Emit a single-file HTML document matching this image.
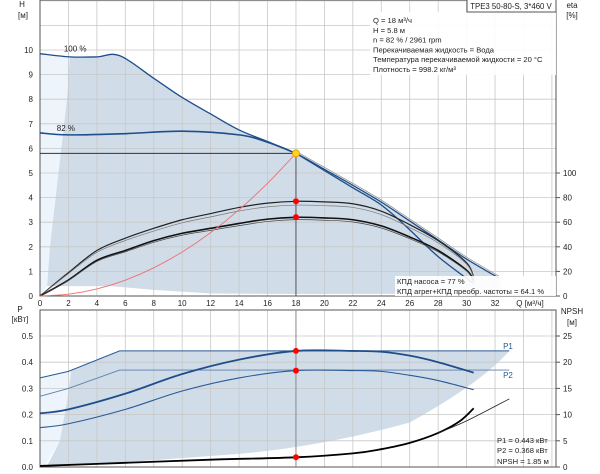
<!DOCTYPE html>
<html><head><meta charset="utf-8"><style>
body{margin:0;background:#fff}
svg{display:block;font-family:"Liberation Sans",sans-serif}
</style></head><body>
<svg id="c" width="600" height="474" viewBox="0 0 600 474" xmlns="http://www.w3.org/2000/svg"></svg>
<script>
// ---- data ----
const qTicks=[0,2,4,6,8,10,12,14,16,18,20,22,24,26,28,30,32];
const hTicks=[0,1,2,3,4,5,6,7,8,9,10];
const etaTicks=[0,20,40,60,80,100];
const pTicks=[0.0,0.1,0.2,0.3,0.4,0.5];
const npshTicks=[0,5,10,15,20,25];
const hMaxQ=[0,2.1,4,5.6,8,10,12,14,16,18,20,22,24,26,28,30,32.3];
const hMaxH=[9.85,9.72,9.72,9.77,8.85,8.07,7.4,6.75,6.28,5.8,5.15,4.5,3.82,3.05,2.28,1.5,0.72];
const h82Q=[0,2,6,10,14,16,18];
const h82H=[6.63,6.55,6.6,6.7,6.55,6.25,5.8];
const h82bQ=[18,20,22,24,25.8,28,30.5];
const h82bH=[5.8,5.1,4.4,3.7,2.8,1.6,0.5];
const etaQ=[0,2,4,6,8,10,12,14,16,18,20,22,24,26,28,30,30.5];
const eta1=[0,19,37,47,55,62,67,72,75.5,77,76.5,75,69,58,45,27,15];
const eta2=[0,13,29,37,45,51,55,59,62.5,64,63.5,62,57,48,37,21,12];
const sysQ=[0,2,4,6,8,10,12,14,16,18];
const p1MaxQ=[0,2,5.6,24,33];
const p1Max=[0.34,0.365,0.443,0.443,0.443];
const p2MaxQ=[0,2,5.6,33];
const p2Max=[0.27,0.30,0.37,0.37];
const pQ=[0,2,6,10,14,18,22,24,26,28,30.5];
const p1=[0.205,0.22,0.28,0.355,0.41,0.443,0.443,0.44,0.425,0.40,0.36];
const p2=[0.15,0.165,0.22,0.29,0.34,0.368,0.368,0.365,0.35,0.33,0.295];
const npshQ=[0,6,12,18,22,24,26,28,29.5,30.5];
const npsh=[0.2,0.8,1.4,1.85,2.6,3.4,4.6,6.5,8.7,11.2];
const npsh2Q=[28,30,33];
const npsh2=[6.5,8.8,13];
const dutyQ=18, dutyH=5.8, dutyEta1=77, dutyEta2=64.1, dutyP1=0.443, dutyP2=0.368, dutyNpsh=1.85;

// ---- axes ----
const X=q=>40+q*14.22;
const YH=h=>296-h*24.6;
const YE=e=>296-e*1.23;
const YP=p=>467-p*262;
const YN=n=>467-n*5.24;
const NS="http://www.w3.org/2000/svg";
const svg=document.getElementById('c');
function el(t,a,parent){const e=document.createElementNS(NS,t);for(const k in a)e.setAttribute(k,a[k]);(parent||svg).appendChild(e);return e;}
function txt(x,y,s,anchor,size,fill){const t=el('text',{x:x,y:y,'font-size':size||8,fill:fill||'#222','text-anchor':anchor||'start'});t.textContent=s;return t;}
function pts(qs,vs,fy){return qs.map((q,i)=>X(q).toFixed(1)+','+fy(vs[i]).toFixed(1));}
function smooth(qs,vs,fy){const p=qs.map((q,i)=>[X(q),fy(vs[i])]);let d='M'+p[0];for(let i=1;i<p.length;i++){const p0=p[i-2]||p[i-1],p1=p[i-1],p2=p[i],p3=p[i+1]||p[i];const c1=[p1[0]+(p2[0]-p0[0])/6,p1[1]+(p2[1]-p0[1])/6],c2=[p2[0]-(p3[0]-p1[0])/6,p2[1]-(p3[1]-p1[1])/6];d+=' C'+c1+' '+c2+' '+p2;}return d;}

// ---- top plot ----
let g=el('g',{});


// light region
el('path',{d:'M'+X(0)+','+YH(0)+' L'+X(0)+','+YH(9.85)+' L'+X(2.1)+','+YH(9.72)+' L'+X(1.9)+','+YH(8)+' L'+X(1.5)+','+YH(6)+' L'+X(1.1)+','+YH(4)+' L'+X(0.7)+','+YH(2)+' L'+X(0.5)+','+YH(0.4)+' Z',fill:'#edf4fb'},g);
// dark region
let dd=smooth(hMaxQ.slice(1),hMaxH.slice(1),YH);
dd+=' L'+X(32.5)+','+YH(0.1)+' L'+X(18)+','+YH(0.08)+' L'+X(12)+','+YH(0.1)+' L'+X(8)+','+YH(0.25)+' L'+X(5)+','+YH(0.4)+' L'+X(0.5)+','+YH(0.4)+' L'+X(0.7)+','+YH(2)+' L'+X(1.1)+','+YH(4)+' L'+X(1.5)+','+YH(6)+' L'+X(1.9)+','+YH(8)+' Z';
el('path',{d:dd,fill:'#d0dce8'},g);
// grid
for(let q=0;q<=36;q+=2)el('line',{x1:X(q),x2:X(q),y1:0,y2:296,stroke:'#c8c8c8','stroke-width':0.8},g);
for(let h=1;h<=12;h++)el('line',{x1:40,x2:556,y1:YH(h),y2:YH(h),stroke:'#c8c8c8','stroke-width':0.8},g);
el('rect',{x:40,y:0,width:516,height:296,fill:'none',stroke:'#555','stroke-width':1},g);
// curves
let c=el('path',{d:smooth(hMaxQ,hMaxH,YH),fill:'none',stroke:'#1f4e8a','stroke-width':1.3},g);
c=el('path',{d:smooth(h82Q,h82H,YH),fill:'none',stroke:'#1f4e8a','stroke-width':1.6},g);
c=el('path',{d:smooth(h82bQ,h82bH,YH),fill:'none',stroke:'#1f4e8a','stroke-width':1.3},g);
el('path',{d:smooth(hMaxQ.slice(9),hMaxH.slice(9).map(v=>v+0.08),YH),fill:'none',stroke:'#888','stroke-width':0.7},g);
c=el('path',{d:smooth(etaQ,eta1,YE),fill:'none',stroke:'#222','stroke-width':1.2},g);
el('path',{d:smooth(etaQ,eta1.map(v=>v*0.96),YE),fill:'none',stroke:'#777','stroke-width':0.7},g);
c=el('path',{d:smooth(etaQ,eta2,YE),fill:'none',stroke:'#111','stroke-width':1.6},g);
el('path',{d:smooth(etaQ,eta2.map(v=>v*0.97),YE),fill:'none',stroke:'#444','stroke-width':0.7},g);
c=el('path',{d:smooth(sysQ,sysQ.map(q=>dutyH*(q/dutyQ)*(q/dutyQ)),YH),fill:'none',stroke:'#f07070','stroke-width':0.9},g);
el('line',{x1:40,x2:X(dutyQ),y1:YH(dutyH),y2:YH(dutyH),stroke:'#333','stroke-width':1},g);
el('line',{x1:X(dutyQ),x2:X(dutyQ),y1:YH(dutyH),y2:296,stroke:'#555','stroke-width':1},g);
c=el('circle',{cx:X(dutyQ),cy:YH(dutyH),r:3.5,fill:'#ffd21e',stroke:'#e0a000','stroke-width':0.8},g);
c=el('circle',{cx:X(dutyQ),cy:YE(dutyEta1),r:3,fill:'#f00'},g);
c=el('circle',{cx:X(dutyQ),cy:YE(dutyEta2),r:3,fill:'#f00'},g);
txt(X(2.1)-6,YH(9.85)-2,'100 %');
txt(X(1.6)-6,YH(6.63)-2,'82 %');
// ticks
hTicks.forEach(h=>{const t=txt(33,YH(h)+3,String(h),'end');});
etaTicks.forEach(e=>{el('line',{x1:556,x2:560,y1:YE(e),y2:YE(e),stroke:'#555'});const t=txt(563,YE(e)+3,String(e));});
qTicks.forEach(q=>{const t=txt(X(q),306,String(q),'middle');});
txt(530,306,'Q [м³/ч]','middle');
txt(22,7,'H','middle');txt(23,18,'[м]','middle');
txt(572,8,'eta','middle');txt(572,18,'[%]','middle');
// info boxes
el('rect',{x:370,y:12,width:186,height:63,fill:'#fff','fill-opacity':0.9});
['Q = 18 м³/ч','H = 5.8 м','n = 82 % / 2961 rpm','Перекачиваемая жидкость = Вода','Температура перекачиваемой жидкости = 20 °C','Плотность = 998.2 кг/м³'].forEach((s,i)=>{const t=txt(373,23+i*9.8,s,'start',7.6);});
el('rect',{x:467,y:-1,width:89,height:13,fill:'#fff',stroke:'#555'});
txt(511,9,'TPE3 50-80-S, 3*460 V','middle',7.8);
el('rect',{x:395,y:276,width:161,height:20,fill:'#fff','fill-opacity':0.9});
txt(397,284,'КПД насоса = 77 %','start',7.6);
txt(397,294,'КПД агрег+КПД преобр. частоты = 64.1 %','start',7.6);

// ---- bottom plot ----
let g2=el('g',{});


el('path',{d:'M'+X(0)+','+YP(0)+' L'+X(0)+','+YP(0.34)+' L'+X(2.2)+','+YP(0.367)+' L'+X(1.9)+','+YP(0.25)+' L'+X(1.4)+','+YP(0.1)+' L'+X(0.5)+','+YP(0.02)+' L'+X(0.3)+','+YP(0)+' Z',fill:'#edf4fb'},g2);
el('path',{d:'M'+X(2.2)+','+YP(0.367)+' L'+X(5.6)+','+YP(0.443)+' L'+X(33)+','+YP(0.443)+' Q'+X(31)+','+YP(0.32)+' '+X(26)+','+YP(0.17)+' Q'+X(20)+','+YP(0.08)+' '+X(14)+','+YP(0.05)+' L'+X(4)+','+YP(0.01)+' L'+X(0.5)+','+YP(0.005)+' L'+X(1.4)+','+YP(0.1)+' L'+X(1.9)+','+YP(0.25)+' Z',fill:'#d0dce8'},g2);
for(let q=0;q<=36;q+=2)el('line',{x1:X(q),x2:X(q),y1:310,y2:467,stroke:'#c8c8c8','stroke-width':0.8},g2);
for(let p=0.1;p<0.55;p+=0.1)el('line',{x1:40,x2:556,y1:YP(p),y2:YP(p),stroke:'#c8c8c8','stroke-width':0.8},g2);
el('rect',{x:40,y:310,width:516,height:157,fill:'none',stroke:'#555','stroke-width':1},g2);
c=el('path',{d:'M'+pts(p1MaxQ,p1Max,YP).join(' L'),fill:'none',stroke:'#2a5a95','stroke-width':1},g2);
c=el('path',{d:'M'+pts(p2MaxQ,p2Max,YP).join(' L'),fill:'none',stroke:'#5a80b0','stroke-width':0.9},g2);
c=el('path',{d:smooth(pQ,p1,YP),fill:'none',stroke:'#1f4e8a','stroke-width':1.8},g2);
c=el('path',{d:smooth(pQ,p2,YP),fill:'none',stroke:'#2a5a95','stroke-width':1.1},g2);
c=el('path',{d:smooth(npshQ,npsh,YN),fill:'none',stroke:'#000','stroke-width':1.8},g2);
c=el('path',{d:smooth(npsh2Q,npsh2,YN),fill:'none',stroke:'#222','stroke-width':0.8},g2);
el('line',{x1:X(dutyQ),x2:X(dutyQ),y1:310,y2:467,stroke:'#777','stroke-width':0.8},g2);
[[YP(dutyP1),'p1-point'],[YP(dutyP2),'p2-point'],[YN(dutyNpsh),'npsh-point']].forEach(a=>{const d=el('circle',{cx:X(dutyQ),cy:a[0],r:3,fill:'#f00'},g2);});
txt(508,349,'P1','middle',8,'#2a5a95');txt(508,378,'P2','middle',8,'#2a5a95');
pTicks.forEach(p=>{const t=txt(33,YP(p)+3,p.toFixed(1),'end');});
npshTicks.forEach(n=>{el('line',{x1:556,x2:560,y1:YN(n),y2:YN(n),stroke:'#555'});const t=txt(563,YN(n)+3,String(n));});
txt(20,312,'P','middle');txt(20,322,'[кВт]','middle');
txt(572,314,'NPSH','middle');txt(572,325,'[м]','middle');
txt(497,443,'P1 = 0.443 кВт','start',7.6);
txt(497,453,'P2 = 0.368 кВт','start',7.6);
txt(497,464,'NPSH = 1.85 м','start',7.6);
</script>
</body></html>
